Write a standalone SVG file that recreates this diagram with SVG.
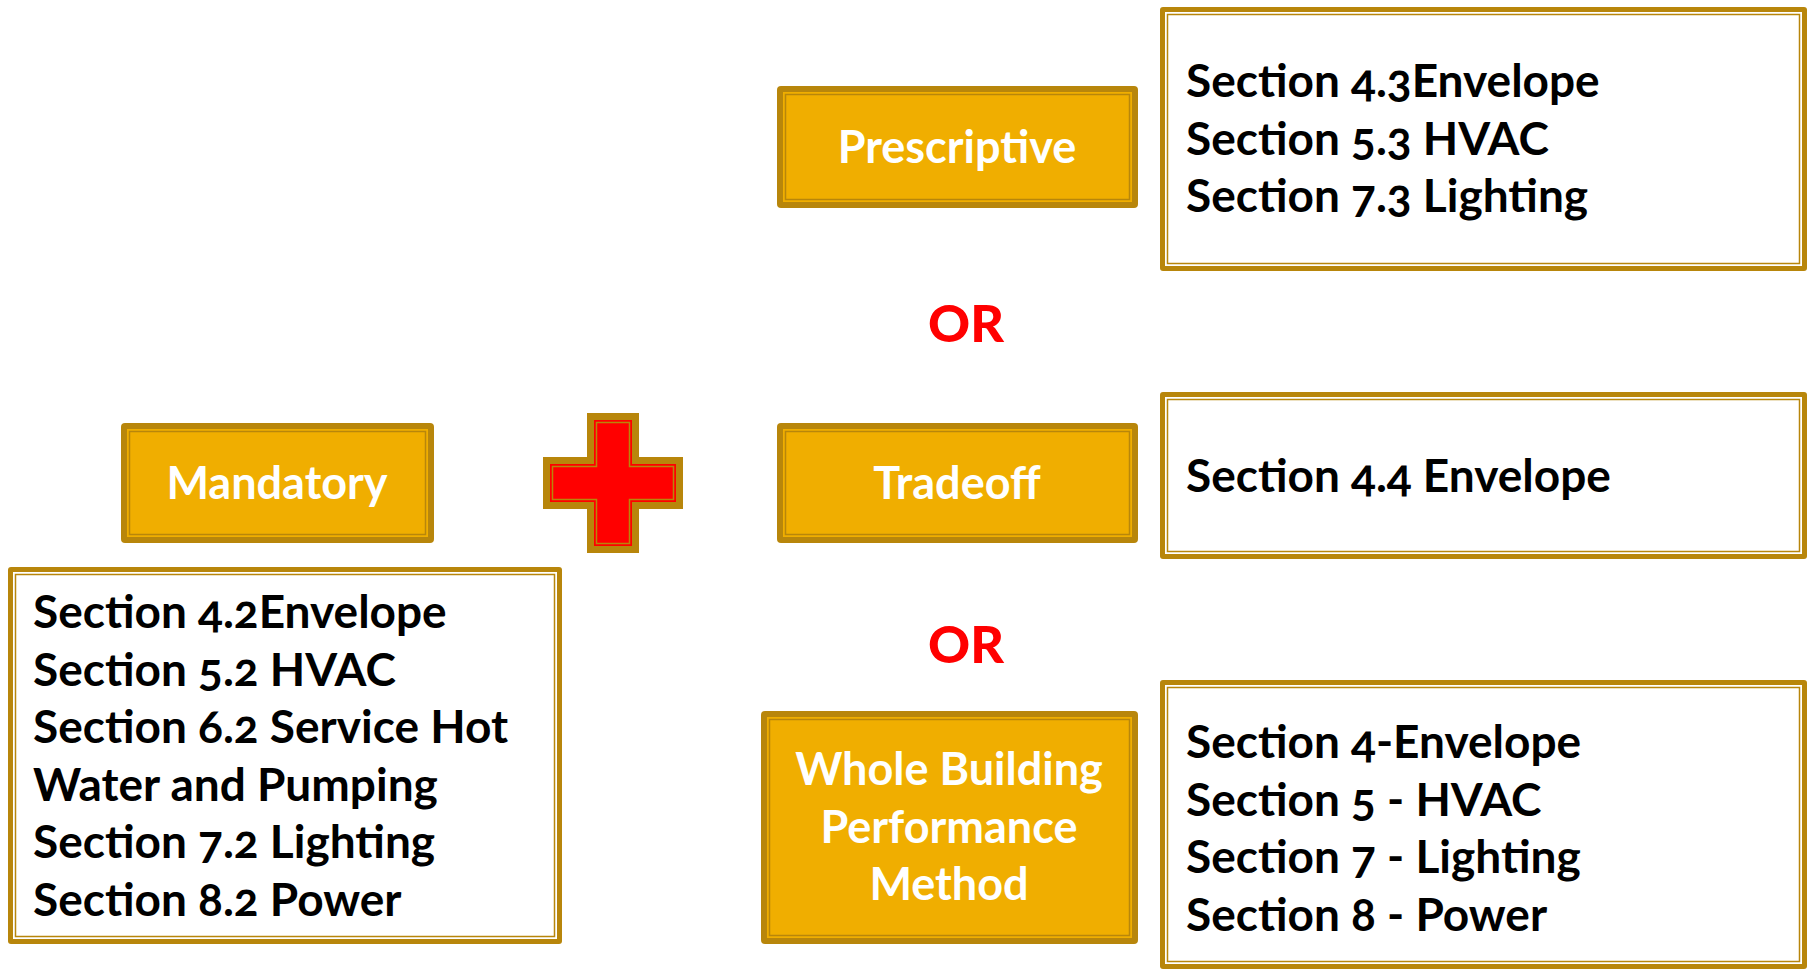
<svg xmlns="http://www.w3.org/2000/svg" width="1807" height="971" viewBox="0 0 1807 971">
<style>
.dark{fill:#B8860B}
.gold{fill:#F0AE00}
.white{fill:#FFFFFF}
.line{fill:none;stroke:#B8860B;stroke-width:1.5}
.lbl{font-family:Lato,"Open Sans","Liberation Sans",sans-serif;font-weight:700;font-size:45px;fill:#FFFFFF;text-anchor:middle}
.body{font-family:Lato,"Liberation Sans",sans-serif;font-weight:700;font-size:46px;fill:#000000;font-variant-numeric:oldstyle-nums}
.or{font-family:Lato,"Liberation Sans",sans-serif;font-weight:900;font-size:52px;fill:#FF0000;text-anchor:middle}
</style>
<rect width="1807" height="971" fill="#FFFFFF"/>
<g id="connectors"></g>

<g id="prescriptive">
<rect class="dark" x="777" y="86" width="361" height="122" rx="4"/>
<rect class="gold" x="783" y="92" width="349" height="110"/>
<rect class="line" x="785.5" y="94.5" width="344" height="105"/>
<text class="lbl" x="957" y="163">Prescriptive</text>
</g>

<g id="prescriptive-sections">
<rect class="dark" x="1160" y="7" width="647" height="264" rx="3"/>
<rect class="white" x="1165" y="12" width="637" height="254"/>
<rect class="line" x="1167.5" y="14.5" width="632" height="249"/>
<text class="body" x="1186" y="97">Section 4.3Envelope</text>
<text class="body" x="1186" y="155">Section 5.3 HVAC</text>
<text class="body" x="1186" y="212">Section 7.3 Lighting</text>
</g>

<text id="or1" class="or" x="966" y="342">OR</text>

<g id="mandatory">
<rect class="dark" x="121" y="423" width="313" height="120" rx="4"/>
<rect class="gold" x="127" y="429" width="301" height="108"/>
<rect class="line" x="129.5" y="431.5" width="296" height="103"/>
<text class="lbl" x="277" y="499">Mandatory</text>
</g>

<g id="plus">
<path class="dark" d="M587,413 H639 V457 H683 V509 H639 V553 H587 V509 H543 V457 H587 Z"/>
<path fill="#FF0000" d="M594,420 H632 V464 H676 V502 H632 V546 H594 V502 H550 V464 H594 Z"/>
<path class="line" d="M596.5,422.5 H629.5 V466.5 H673.5 V499.5 H629.5 V543.5 H596.5 V499.5 H552.5 V466.5 H596.5 Z"/>
</g>

<g id="tradeoff">
<rect class="dark" x="777" y="423" width="361" height="120" rx="4"/>
<rect class="gold" x="783" y="429" width="349" height="108"/>
<rect class="line" x="785.5" y="431.5" width="344" height="103"/>
<text class="lbl" x="957" y="499">Tradeoff</text>
</g>

<g id="tradeoff-sections">
<rect class="dark" x="1160" y="392" width="647" height="167" rx="3"/>
<rect class="white" x="1165" y="397" width="637" height="157"/>
<rect class="line" x="1167.5" y="399.5" width="632" height="152"/>
<text class="body" x="1186" y="492">Section 4.4 Envelope</text>
</g>

<g id="mandatory-sections">
<rect class="dark" x="8" y="567" width="554" height="377" rx="3"/>
<rect class="white" x="13" y="572" width="544" height="367"/>
<rect class="line" x="15.5" y="574.5" width="539" height="362"/>
<text class="body" x="33" y="628">Section 4.2Envelope</text>
<text class="body" x="33" y="686">Section 5.2 HVAC</text>
<text class="body" x="33" y="743">Section 6.2 Service Hot</text>
<text class="body" x="33" y="801">Water and Pumping</text>
<text class="body" x="33" y="858">Section 7.2 Lighting</text>
<text class="body" x="33" y="916">Section 8.2 Power</text>
</g>

<text id="or2" class="or" x="966" y="663">OR</text>

<g id="whole-building">
<rect class="dark" x="761" y="711" width="377" height="233" rx="4"/>
<rect class="gold" x="767" y="717" width="365" height="221"/>
<rect class="line" x="769.5" y="719.5" width="360" height="216"/>
<text class="lbl" x="949" y="785">Whole Building</text>
<text class="lbl" x="949" y="843">Performance</text>
<text class="lbl" x="949" y="900">Method</text>
</g>

<g id="performance-sections">
<rect class="dark" x="1160" y="680" width="647" height="289" rx="3"/>
<rect class="white" x="1165" y="685" width="637" height="279"/>
<rect class="line" x="1167.5" y="687.5" width="632" height="274"/>
<text class="body" x="1186" y="758">Section 4-Envelope</text>
<text class="body" x="1186" y="816">Section 5 - HVAC</text>
<text class="body" x="1186" y="873">Section 7 - Lighting</text>
<text class="body" x="1186" y="931">Section 8 - Power</text>
</g>
</svg>
